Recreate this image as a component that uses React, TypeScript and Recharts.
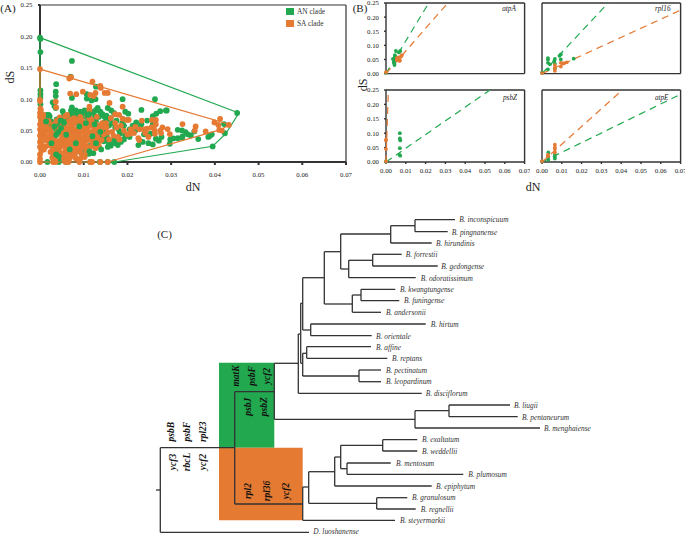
import React from 'react';
import {
  ScatterChart,
  Scatter,
  XAxis,
  YAxis,
  Legend,
  ReferenceLine,
  ReferenceArea,
} from 'recharts';

const GREEN = '#22a84f';
const ORANGE = '#e57a33';
const DARK = '#333333';
const SERIF = '"Liberation Serif", "Times New Roman", serif';

const dnTicks = [0, 0.01, 0.02, 0.03, 0.04, 0.05, 0.06, 0.07];
const dsTicks = [0, 0.05, 0.1, 0.15, 0.2, 0.25];

type Pair = [number, number];

// Panel A as [dN, dS]
const anPoints: Pair[] = [
  [0, 0.198], [0.0001, 0.196], [0.0001, 0.175], [0.0073, 0.161], [0.007, 0.136], [0.0037, 0.124], [0.0001, 0.114],
  [0.0001, 0.108], [0.0001, 0.102], [0.0001, 0.092], [0.0036, 0.105], [0.0036, 0.112], [0.0073, 0.102], [0.0029, 0.095],
  [0.0033, 0.089], [0.0036, 0.086], [0.0128, 0.12], [0.0107, 0.108], [0.0107, 0.101], [0.0118, 0.098], [0.0127, 0.1],
  [0.0263, 0.1], [0.0189, 0.1], [0.0155, 0.086], [0.0232, 0.083], [0.0266, 0.077], [0.0275, 0.081], [0.0288, 0.082],
  [0.0258, 0.073], [0.0015, 0.075], [0.0022, 0.073], [0.0025, 0.065], [0.0012, 0.062], [0.002, 0.058], [0.0032, 0.062],
  [0.0038, 0.068], [0.0042, 0.06], [0.0045, 0.055], [0.0052, 0.081], [0.0048, 0.067], [0.0056, 0.063], [0.0062, 0.066],
  [0.0073, 0.087], [0.0071, 0.082], [0.0078, 0.078], [0.0075, 0.072], [0.0083, 0.075], [0.0088, 0.07], [0.0098, 0.078],
  [0.0102, 0.082], [0.0105, 0.072], [0.011, 0.07], [0.0118, 0.08], [0.0123, 0.078], [0.0128, 0.083], [0.0132, 0.086],
  [0.0138, 0.08], [0.0143, 0.076], [0.0135, 0.072], [0.0128, 0.065], [0.0118, 0.062], [0.0148, 0.064], [0.0155, 0.068],
  [0.0163, 0.082], [0.0169, 0.078], [0.0158, 0.058], [0.0165, 0.062], [0.0172, 0.055], [0.0181, 0.05], [0.0145, 0.05],
  [0.0148, 0.045], [0.0153, 0.04], [0.0152, 0.035], [0.0146, 0.033], [0.0158, 0.03], [0.0162, 0.026], [0.0172, 0.03],
  [0.0178, 0.027], [0.0185, 0.032], [0.0183, 0.045], [0.0195, 0.042], [0.0205, 0.04], [0.0192, 0.058], [0.0195, 0.08],
  [0.0202, 0.077], [0.022, 0.063], [0.0232, 0.06], [0.0245, 0.066], [0.0228, 0.055], [0.0218, 0.05], [0.0225, 0.027],
  [0.0235, 0.032], [0.0258, 0.06], [0.0262, 0.062], [0.0253, 0.045], [0.0258, 0.028], [0.0265, 0.037], [0.0278, 0.04],
  [0.0025, 0.032], [0.003, 0.03], [0.0033, 0.02], [0.0035, 0.012], [0.0038, 0.01], [0.004, 0.008], [0.0045, 0.009],
  [0.0045, 0.006], [0.0035, 0.025], [0.0022, 0.028], [0.005, 0.045], [0.0055, 0.035], [0.006, 0.042], [0.0065, 0.05],
  [0.0068, 0.022], [0.0072, 0.047], [0.0078, 0.038], [0.0085, 0.045], [0.009, 0.035], [0.0095, 0.028], [0.0088, 0.018],
  [0.0095, 0.014], [0.0112, 0.013], [0.0105, 0.018], [0.0115, 0.026], [0.013, 0.045], [0.0135, 0.038], [0.012, 0.035],
  [0.0142, 0.04], [0.0451, 0.078], [0.0421, 0.0604], [0.0423, 0.0458], [0.0395, 0.0248], [0.0389, 0.0418], [0.0385, 0.04],
  [0.0393, 0.044], [0.0362, 0.0365], [0.0353, 0.0487], [0.0345, 0.0423], [0.0338, 0.044], [0.0333, 0.0476], [0.0325, 0.0503],
  [0.0315, 0.0513], [0.0326, 0.0407], [0.0325, 0.0385], [0.0315, 0.038], [0.0305, 0.0375], [0.0298, 0.036], [0.0297, 0.029],
  [0.029, 0.082], [0.0017, 0], [0.0043, 0], [0.006, 0], [0.0115, 0], [0.0137, 0], [0.0155, 0], [0.017, 0],
  [0.0018, 0.068], [0.003, 0.055], [0.0037, 0.05], [0.0052, 0.072], [0.0068, 0.075], [0.0082, 0.082], [0.0092, 0.08],
  [0.0112, 0.082], [0.0126, 0.072], [0.0148, 0.072], [0.0152, 0.074], [0.0162, 0.07], [0.0175, 0.066], [0.0188, 0.062],
  [0.0205, 0.052], [0.0212, 0.058], [0.0155, 0.024], [0.0168, 0.034], [0.0176, 0.038], [0.0192, 0.036], [0.0238, 0.044],
  [0.0248, 0.03], [0.0272, 0.034], [0.003, 0.008], [0.0052, 0.012], [0.0062, 0.014], [0.0102, 0.01], [0.0122, 0.014],
];

// green dots that show through the orange cluster
const anOnTop: Pair[] = [
  [0.0037, 0.043], [0.0042, 0.048], [0.0048, 0.054], [0.0037, 0.012], [0.0043, 0.009], [0.0075, 0.08], [0.0108, 0.075],
  [0.0112, 0.076], [0.0132, 0.083], [0.002, 0.075], [0.012, 0.041], [0.0082, 0.03], [0.014, 0.02], [0.0014, 0.0645],
  [0.009, 0.0567], [0.0055, 0.0625], [0.0033, 0.0567], [0.006, 0.0434], [0.0026, 0.03], [0.0047, 0.066], [0.0105, 0.062],
  [0.0125, 0.06], [0.0138, 0.048], [0.0128, 0.03], [0.0113, 0.017], [0.0068, 0.02],
];

const saPoints: Pair[] = [
  [0, 0.148], [0.0067, 0.133], [0.0071, 0.135], [0.012, 0.128], [0.0138, 0.121], [0.0139, 0.118], [0.0069, 0.109],
  [0.0083, 0.108], [0.0098, 0.112], [0.0115, 0.107], [0.0127, 0.11], [0.0123, 0.105], [0.0148, 0.11], [0.0155, 0.11],
  [0.0036, 0.096], [0.0037, 0.087], [0, 0.099], [0, 0.097], [0.0001, 0.085], [0.0159, 0.094], [0.0189, 0.088],
  [0.0113, 0.088], [0.0113, 0.083], [0.0112, 0.075], [0.0172, 0.076], [0.0181, 0.075], [0.0189, 0.069], [0.0198, 0.067],
  [0.0203, 0.067], [0.0233, 0.066], [0.0256, 0.067], [0.0265, 0.067], [0.0265, 0.06], [0.0326, 0.0604], [0.0399, 0.063],
  [0.0412, 0.0688], [0.0408, 0.059], [0.041, 0.051], [0.0416, 0.05], [0.0432, 0.059], [0.0379, 0.0487], [0.0356, 0.0566],
  [0.0354, 0.05], [0.0292, 0.0524], [0.0297, 0.0445], [0.028, 0.055], [0.0275, 0.05], [0.0277, 0.046], [0.026, 0.055],
  [0.0262, 0.05], [0.0263, 0.045], [0.0255, 0.055], [0.0245, 0.053], [0.0238, 0.052], [0.0228, 0.052], [0.0227, 0.035],
  [0.0225, 0.038], [0.0215, 0.046], [0.0205, 0.045], [0.02, 0.044], [0.0182, 0.036], [0.0178, 0.04], [0.0165, 0.048],
  [0.0172, 0.062], [0.0185, 0.058], [0.0152, 0.055], [0.0155, 0.047], [0.0143, 0.056],
  [0, 0.005], [0, 0.012], [0.0003, 0.018], [0, 0.024], [0.0004, 0.028], [0, 0.032], [0.0006, 0.035], [0.0002, 0.038],
  [0.001, 0.036], [0, 0.042], [0.0005, 0.044], [0.0012, 0.042], [0.0002, 0.047], [0.0008, 0.05], [0, 0.052],
  [0.0012, 0.048], [0.0004, 0.055], [0.001, 0.057], [0, 0.06], [0.0006, 0.062], [0.0016, 0.062], [0.0002, 0.066],
  [0.0012, 0.066], [0, 0.072], [0.0005, 0.07], [0, 0.078], [0.0003, 0.075], [0.002, 0.065], [0.0018, 0.052],
  [0.002, 0.04], [0.0016, 0.034],
  [0.0058, 0.073], [0.0062, 0.075], [0.0078, 0.07], [0.0092, 0.072], [0.0107, 0.074], [0.0113, 0.07], [0.013, 0.072],
  [0.0045, 0.071], [0.0038, 0.066], [0.0052, 0.062], [0.0063, 0.064], [0.0071, 0.068], [0.0083, 0.063], [0.0096, 0.066],
  [0.0104, 0.062], [0.0112, 0.065], [0.0118, 0.067], [0.0128, 0.06], [0.0142, 0.062], [0.0032, 0.06],
  [0.0028, 0.056], [0.0041, 0.052], [0.0055, 0.058], [0.0062, 0.051], [0.0069, 0.055], [0.0074, 0.059], [0.0081, 0.052],
  [0.0089, 0.056], [0.0097, 0.051], [0.0103, 0.057], [0.0109, 0.053], [0.0115, 0.058], [0.0122, 0.05], [0.0131, 0.054],
  [0.0025, 0.047], [0.0031, 0.042], [0.0046, 0.045], [0.0052, 0.041], [0.0059, 0.048], [0.0066, 0.043], [0.0072, 0.047],
  [0.0078, 0.041], [0.0084, 0.046], [0.0091, 0.042], [0.0098, 0.048], [0.0104, 0.043], [0.0111, 0.047], [0.0117, 0.041],
  [0.0124, 0.045], [0.0136, 0.048], [0.0023, 0.035], [0.0034, 0.037], [0.0042, 0.032], [0.0048, 0.036], [0.0055, 0.031],
  [0.0061, 0.038], [0.0068, 0.033], [0.0074, 0.037], [0.0081, 0.031], [0.0087, 0.036], [0.0094, 0.032], [0.01, 0.038],
  [0.0107, 0.034], [0.0113, 0.037], [0.012, 0.032], [0.0127, 0.036], [0.0134, 0.031], [0.0021, 0.027], [0.0029, 0.022],
  [0.0037, 0.026], [0.0044, 0.021], [0.0051, 0.028], [0.0057, 0.023], [0.0064, 0.027], [0.0071, 0.022], [0.0077, 0.026],
  [0.0084, 0.021], [0.009, 0.028], [0.0097, 0.023], [0.0103, 0.027], [0.0111, 0.021], [0.0118, 0.025], [0.0024, 0.016],
  [0.0032, 0.012], [0.0039, 0.017], [0.0052, 0.014], [0.0059, 0.018], [0.0066, 0.012], [0.0073, 0.016], [0.008, 0.013],
  [0.0088, 0.019], [0.0096, 0.011], [0.0106, 0.016], [0.0047, 0.01], [0.0028, 0.007], [0.0055, 0.006], [0.0068, 0.006],
  [0.0082, 0.006], [0.0092, 0.005], [0, 0], [0.003, 0], [0.0035, 0], [0.0058, 0], [0.0065, 0], [0.009, 0], [0.0115, 0],
  [0.0119, 0], [0.0138, 0], [0.0155, 0],
  [0.0086, 0.067], [0.0077, 0.061], [0.0068, 0.062], [0.0058, 0.055], [0.0048, 0.055], [0.0094, 0.06], [0.0108, 0.06],
  [0.0125, 0.055], [0.0137, 0.058], [0.0141, 0.052], [0.0146, 0.044], [0.0141, 0.035], [0.0131, 0.04], [0.0118, 0.046],
  [0.0106, 0.05], [0.0092, 0.05], [0.0076, 0.052], [0.0064, 0.047], [0.0053, 0.05], [0.0038, 0.045], [0.0028, 0.04],
  [0.0022, 0.05], [0.0035, 0.03], [0.0045, 0.026], [0.006, 0.032], [0.0072, 0.029], [0.0088, 0.025], [0.0101, 0.031],
  [0.0125, 0.028], [0.0135, 0.025], [0.0127, 0.022], [0.0108, 0.024], [0.0092, 0.016], [0.0076, 0.019], [0.0062, 0.02],
  [0.0042, 0.015], [0.003, 0.016], [0.0036, 0.007], [0.0061, 0.009], [0.0075, 0.01], [0.0102, 0.008], [0.0151, 0.062],
  [0.0162, 0.07], [0.0168, 0.042], [0.0175, 0.055], [0.0158, 0.036], [0.0192, 0.05], [0.0208, 0.052], [0.0218, 0.056],
  [0.0241, 0.046], [0.0248, 0.04], [0.0014, 0.025], [0.0009, 0.02], [0.0014, 0.055], [0.0008, 0.075], [0.0002, 0.082],
];

const anHull: Pair[] = [[0, 0.198], [0.0455, 0.078], [0.0425, 0.045], [0.0395, 0.025], [0.017, 0], [0, 0], [0, 0.198]];
const saHull: Pair[] = [[0, 0.148], [0.0434, 0.06], [0.0415, 0.052], [0.0155, 0], [0, 0], [0, 0.148]];

// Panel B
const atpAGreen: Pair[] = [[0, 0.003], [0.0035, 0.052], [0.004, 0.045], [0.004, 0.04], [0.0042, 0.035], [0.0043, 0.03], [0.0045, 0.06], [0.0045, 0.065], [0.0048, 0.05], [0.005, 0.08], [0.006, 0.055], [0.0065, 0.075], [0.0072, 0.08]];
const atpAOrange: Pair[] = [[0, 0.005], [0.0055, 0.055], [0.0055, 0.048], [0.006, 0.05], [0.0062, 0.057], [0.0065, 0.053], [0.0068, 0.045], [0.007, 0.047], [0.0075, 0.06], [0.008, 0.065]];
const rpl16Green: Pair[] = [[0, 0.003], [0.003, 0.055], [0.003, 0.05], [0.003, 0.038], [0.003, 0.015], [0.004, 0.033], [0.0062, 0.045], [0.0065, 0.052], [0.0065, 0.035], [0.0065, 0.018], [0.0088, 0.063], [0.0095, 0.068], [0.0095, 0.05], [0.016, 0.053]];
const rpl16Orange: Pair[] = [[0, 0.002], [0.0065, 0.01], [0.0065, 0.02], [0.0065, 0.03], [0.0095, 0.025], [0.0095, 0.038], [0.0105, 0.035], [0.0112, 0.037], [0.0125, 0.04]];
const psbZGreen: Pair[] = [[0, 0.002], [0.007, 0.1], [0.007, 0.082], [0.0072, 0.075], [0.007, 0.048], [0.0068, 0.025], [0.0072, 0.022]];
const psbZOrange: Pair[] = [[0, 0.078], [0, 0.075], [0, 0.045], [0, 0.003]];
const atpEGreen: Pair[] = [[0, 0.002], [0.0032, 0.033], [0.0032, 0.018], [0.0032, 0.008], [0.0065, 0.025], [0.0065, 0.018], [0.0065, 0.012]];
const atpEOrange: Pair[] = [[0, 0.003], [0.003, 0.02], [0.003, 0.025], [0.0065, 0.06], [0.0065, 0.05], [0.0065, 0.045], [0.0065, 0.033]];

// Panel C, tree: horizontal [y, x1, x2], vertical [x, y1, y2]
const treeHorizontal: [number, number, number][] = [
  [447.7, 160.3, 234.7], [391.7, 234.7, 274.3], [363.3, 274.3, 298.3], [393.3, 298.3, 421.7], [334, 298.3, 300.7],
  [303.3, 300.7, 302.7], [363.3, 300.7, 302.7], [277.7, 302.7, 324.3], [251.7, 324.3, 340.7], [234, 340.7, 390.7],
  [225.7, 390.7, 415], [219.7, 415, 455], [231.7, 415, 447.7], [243, 390.7, 431.7], [269, 340.7, 348.7],
  [260.3, 348.7, 372.7], [254.3, 372.7, 401.7], [266, 372.7, 437.7], [277.7, 348.7, 415.7], [304, 324.3, 352.3],
  [295, 352.3, 361], [289.3, 361, 395.3], [300.7, 361, 399.3], [312.3, 352.3, 381], [330, 302.7, 310.7],
  [324, 310.7, 425.7], [335.7, 310.7, 371.7], [353.3, 302.7, 306.7], [346.7, 306.7, 371], [358.3, 306.7, 387.3],
  [376, 302.7, 359], [370, 359, 381], [381.7, 359, 381], [419.3, 274.3, 415], [410.7, 415, 449], [405, 449, 510],
  [416.7, 449, 517.7], [428, 415, 540], [504, 234.7, 302.7], [520.3, 302.7, 395], [487, 302.7, 308.7],
  [471.7, 308.7, 334.7], [457, 334.7, 340.7], [445.3, 340.7, 382.7], [439.7, 382.7, 417.3], [451, 382.7, 417.3],
  [468.7, 340.7, 347], [463, 347, 390.7], [474.3, 347, 463.3], [486, 334.7, 431.7], [503.3, 308.7, 376.7],
  [497.7, 376.7, 407.3], [509, 376.7, 415.7], [532.3, 160.3, 309], [490, 156, 160.3],
];
const treeVertical: [number, number, number][] = [
  [160.3, 447.7, 532.3], [234.7, 391.7, 504], [274.3, 363.3, 419.3], [298.3, 334, 393.3], [300.7, 303.3, 363.3],
  [302.7, 277.7, 330], [302.7, 353.3, 376], [306.7, 346.7, 358.3], [359, 370, 381.7], [324.3, 251.7, 304],
  [340.7, 234, 269], [390.7, 225.7, 243], [415, 219.7, 231.7], [348.7, 260.3, 277.7], [372.7, 254.3, 266],
  [352.3, 295, 312.3], [361, 289.3, 300.7], [310.7, 324, 335.7], [415, 410.7, 428], [449, 405, 416.7],
  [302.7, 487, 520.3], [308.7, 471.7, 503.3], [334.7, 457, 486], [340.7, 445.3, 468.7], [382.7, 439.7, 451],
  [347, 463, 474.3], [376.7, 497.7, 509],
];

const tipLabels: [string, number, number][] = [
  ['B. inconspicuum', 459.3, 219.7], ['B. pingnanense', 451.7, 232], ['B. hirundinis', 436, 243], ['B. forrestii', 405.7, 254.5],
  ['B. gedongense', 441.3, 266], ['B. odoratissimum', 420.7, 278], ['B. kwangtungense', 400, 289], ['B. funingense', 404, 300.5],
  ['B. andersonii', 386, 312], ['B. hirtum', 430.7, 324], ['B. orientale', 376, 336], ['B. affine', 376, 347],
  ['B. reptans', 392, 358.3], ['B. pectinatum', 386, 370], ['B. leopardinum', 386, 381.7], ['B. disciflorum', 425.7, 393.5],
  ['B. liugii', 514, 405], ['B. pentaneurum', 522, 417], ['B. menghaiense', 544, 428], ['B. exaltatum', 422, 439.7],
  ['B. weddellii', 422, 451], ['B. mentosum', 396, 463], ['B. plumosum', 468.3, 474.5], ['B. epiphytum', 436, 486],
  ['B. granulosum', 412, 497.7], ['B. regnellii', 420.7, 509], ['B. steyermarkii', 400, 520.5], ['D. luoshanense', 313.3, 531.5],
];

const geneLabels: [string, number, number][] = [
  ['matK', 236, 376], ['psbF', 251.7, 376], ['ycf2', 267.3, 376], ['psbJ', 248.3, 406.7], ['psbZ', 264.3, 406.7],
  ['psbB', 170.7, 431.7], ['psbF', 186.7, 431.7], ['rpl23', 203.3, 431.7], ['ycf3', 172.7, 462], ['rbcL', 187.3, 462],
  ['ycf2', 203.3, 462], ['rpl2', 247.7, 491], ['rpl36', 266.7, 491], ['ycf2', 285.7, 491],
];

const panelTags: [string, number, number][] = [
  ['atpA', 509, 9.3], ['rpl16', 662.7, 9.3], ['psbZ', 510, 98.3], ['atpE', 661.7, 98.3],
];
const plainLabels: [string, number, number, number][] = [
  ['(A)', 8, 7.5, 11], ['(B)', 360, 7.5, 11], ['(C)', 164.5, 234, 11], ['dN', 533, 187, 12],
];

const toPoints = (pairs: Pair[]) => pairs.map(([x, y]) => ({ x, y }));
const dot = (r: number, fill: string) => (p: any) => <circle cx={p.cx} cy={p.cy} r={r} fill={fill} />;
const noDot = () => <g />;
const tick2 = (v: number) => v.toFixed(2);
const tickStyle = { fontFamily: SERIF, fontSize: 6.8, fill: '#222' };

function LegendBox({ payload }: any) {
  return (
    <div style={{ fontFamily: SERIF, fontSize: 7.4, color: '#333' }}>
      {(payload || []).map((item: any) => (
        <div key={item.value} style={{ display: 'flex', alignItems: 'center', height: 12 }}>
          <span style={{ width: 7.5, height: 7.5, background: item.color, marginRight: 3.5 }} />
          {item.value}
        </div>
      ))}
    </div>
  );
}

function MainPanel() {
  return (
    <div style={{ position: 'absolute', left: 0, top: 0 }}>
      <ScatterChart width={360} height={194} margin={{ top: 5, right: 14, bottom: 4, left: 0 }}>
        <XAxis
          type="number" dataKey="x" domain={[0, 0.07]} ticks={dnTicks} tickFormatter={tick2} height={28}
          tick={tickStyle} tickSize={3} tickMargin={7} stroke={DARK} strokeWidth={2} interval={0}
          label={{ value: 'dN', position: 'insideBottom', offset: -1, style: { fontFamily: SERIF, fontSize: 12, fill: '#222' } }}
        />
        <YAxis
          type="number" dataKey="y" domain={[0, 0.25]} ticks={dsTicks} tickFormatter={tick2} width={40}
          tick={tickStyle} tickSize={2} tickMargin={5.5} stroke={DARK} strokeWidth={2} interval={0}
          label={{ value: 'dS', angle: -90, position: 'insideLeft', offset: 10, style: { fontFamily: SERIF, fontSize: 12, fill: '#222' } }}
        />
        <ReferenceLine y={0.25} stroke={DARK} strokeWidth={1.2} />
        <ReferenceLine x={0.07} stroke={DARK} strokeWidth={1.2} />
        <Legend
          layout="vertical" align="center" verticalAlign="middle" content={<LegendBox />}
          wrapperStyle={{ left: 286, top: 5.5, width: 70 }}
        />
        <Scatter name="AN clade" data={toPoints(anPoints)} fill={GREEN} shape={dot(2.9, GREEN)} isAnimationActive={false} />
        <Scatter data={toPoints(anHull)} legendType="none" line={{ stroke: GREEN, strokeWidth: 1.2 }} shape={noDot} isAnimationActive={false} />
        <Scatter name="SA clade" data={toPoints(saPoints)} fill={ORANGE} shape={dot(2.9, ORANGE)} isAnimationActive={false} />
        <Scatter data={toPoints(saHull)} legendType="none" line={{ stroke: ORANGE, strokeWidth: 1.2 }} shape={noDot} isAnimationActive={false} />
        <Scatter data={toPoints(anOnTop)} legendType="none" shape={dot(2.9, GREEN)} isAnimationActive={false} />
      </ScatterChart>
    </div>
  );
}

interface SmallPanelProps {
  left: number;
  top: number;
  plotHeight: number;
  showX: boolean;
  showY: boolean;
  greenDots: Pair[];
  orangeDots: Pair[];
  greenEnd: Pair;
  orangeEnd: Pair;
}

function SmallPanel({ left, top, plotHeight, showX, showY, greenDots, orangeDots, greenEnd, orangeEnd }: SmallPanelProps) {
  const axisH = showX ? 20 : 5;
  return (
    <div style={{ position: 'absolute', left: left - 30, top: top - 3 }}>
      <ScatterChart width={30 + 138.6 + 6} height={3 + plotHeight + axisH} margin={{ top: 3, right: 6, bottom: 0, left: 0 }}>
        <XAxis
          type="number" dataKey="x" domain={[0, 0.07]} ticks={dnTicks} tickFormatter={tick2} height={axisH}
          tick={showX ? tickStyle : false} tickSize={2} tickMargin={4} stroke={DARK} strokeWidth={1.4} interval={0}
        />
        <YAxis
          type="number" dataKey="y" domain={[0, 0.25]} ticks={dsTicks} tickFormatter={tick2} width={30}
          tick={showY ? tickStyle : false} tickSize={2} tickMargin={5} stroke={DARK} strokeWidth={1.4} interval={0}
        />
        <ReferenceLine y={0.25} stroke={DARK} strokeWidth={1.4} />
        <ReferenceLine x={0.07} stroke={DARK} strokeWidth={1.4} />
        <Scatter data={toPoints([[0, 0], greenEnd])} line={{ stroke: GREEN, strokeWidth: 1.2, strokeDasharray: '7 5' }} shape={noDot} isAnimationActive={false} />
        <Scatter data={toPoints([[0, 0], orangeEnd])} line={{ stroke: ORANGE, strokeWidth: 1.2, strokeDasharray: '7 5' }} shape={noDot} isAnimationActive={false} />
        <Scatter data={toPoints(greenDots)} shape={dot(1.9, GREEN)} isAnimationActive={false} />
        <Scatter data={toPoints(orangeDots)} shape={dot(1.9, ORANGE)} isAnimationActive={false} />
      </ScatterChart>
    </div>
  );
}

const tipShape = (p: any) => (
  <text x={p.cx} y={p.cy} dominantBaseline="central" fontFamily={SERIF} fontStyle="italic" fontSize={7.4} fill="#333">
    {p.payload.name}
  </text>
);
const geneShape = (p: any) => (
  <text
    x={p.cx} y={p.cy} dominantBaseline="central" textAnchor="middle" fontFamily={SERIF} fontStyle="italic"
    fontWeight="bold" fontSize={9.5} fill="#111" transform={`rotate(-90 ${p.cx} ${p.cy})`}
  >
    {p.payload.name}
  </text>
);
const tagShape = (p: any) => (
  <text x={p.cx} y={p.cy} dominantBaseline="central" textAnchor="middle" fontFamily={SERIF} fontStyle="italic" fontSize={7.2} fill="#222">
    {p.payload.name}
  </text>
);
const plainShape = (p: any) => (
  <text x={p.cx} y={p.cy} dominantBaseline="central" textAnchor="middle" fontFamily={SERIF} fontSize={p.payload.size} fill="#222">
    {p.payload.name}
  </text>
);
const rotatedDs = (p: any) => (
  <text
    x={p.cx} y={p.cy} dominantBaseline="central" textAnchor="middle" fontFamily={SERIF} fontSize={12} fill="#222"
    transform={`rotate(-90 ${p.cx} ${p.cy})`}
  >
    dS
  </text>
);

const named = (rows: [string, number, number][]) => rows.map(([name, x, y]) => ({ name, x, y }));

function TreePanel() {
  return (
    <div style={{ position: 'absolute', left: 0, top: 0, pointerEvents: 'none' }}>
      <ScatterChart width={685} height={535} margin={{ top: 0, right: 0, bottom: 0, left: 0 }}>
        <XAxis type="number" dataKey="x" domain={[0, 685]} hide />
        <YAxis type="number" dataKey="y" domain={[0, 535]} reversed hide />
        <ReferenceArea x1={219} x2={274.3} y1={362.7} y2={447.7} fill={GREEN} fillOpacity={1} stroke="none" />
        <ReferenceArea x1={219} x2={302.7} y1={447.7} y2={520.3} fill={ORANGE} fillOpacity={1} stroke="none" />
        {treeHorizontal.map(([y, x1, x2], i) => (
          <ReferenceLine key={`h${i}`} segment={[{ x: x1, y }, { x: x2, y }]} stroke={DARK} strokeWidth={1.3} />
        ))}
        {treeVertical.map(([x, y1, y2], i) => (
          <ReferenceLine key={`v${i}`} segment={[{ x, y: y1 }, { x, y: y2 }]} stroke={DARK} strokeWidth={1.3} />
        ))}
        <Scatter data={named(tipLabels)} shape={tipShape} isAnimationActive={false} />
        <Scatter data={named(geneLabels)} shape={geneShape} isAnimationActive={false} />
        <Scatter data={named(panelTags)} shape={tagShape} isAnimationActive={false} />
        <Scatter data={plainLabels.map(([name, x, y, size]) => ({ name, x, y, size }))} shape={plainShape} isAnimationActive={false} />
        <Scatter data={[{ x: 363, y: 85 }]} shape={rotatedDs} isAnimationActive={false} />
      </ScatterChart>
    </div>
  );
}

export default function App() {
  return (
    <div style={{ position: 'absolute', left: 0, top: 0, width: 685, height: 535, background: '#fff', overflow: 'hidden' }}>
      <MainPanel />
      <SmallPanel left={385.7} top={2.7} plotHeight={70.6} showX={false} showY greenDots={atpAGreen} orangeDots={atpAOrange} greenEnd={[0.0216, 0.25]} orangeEnd={[0.0312, 0.25]} />
      <SmallPanel left={542} top={2.7} plotHeight={70.6} showX={false} showY={false} greenDots={rpl16Green} orangeDots={rpl16Orange} greenEnd={[0.0334, 0.25]} orangeEnd={[0.07, 0.225]} />
      <SmallPanel left={385.7} top={90} plotHeight={72} showX showY greenDots={psbZGreen} orangeDots={psbZOrange} greenEnd={[0.0525, 0.25]} orangeEnd={[0.0012, 0.25]} />
      <SmallPanel left={542} top={90} plotHeight={72} showX showY={false} greenDots={atpEGreen} orangeDots={atpEOrange} greenEnd={[0.07, 0.235]} orangeEnd={[0.0406, 0.25]} />
      <TreePanel />
    </div>
  );
}
